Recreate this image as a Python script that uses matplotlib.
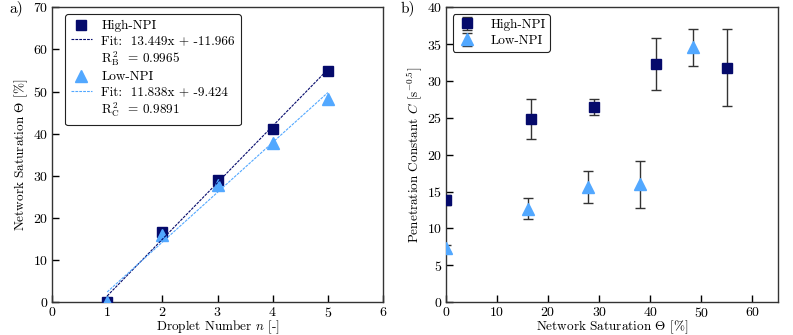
import matplotlib
matplotlib.use("Agg")
import matplotlib.pyplot as plt
import numpy as np
from matplotlib.lines import Line2D

plt.rcParams["font.family"] = "serif"
plt.rcParams["font.serif"] = ["cmr10"]
plt.rcParams["mathtext.fontset"] = "cm"
plt.rcParams["axes.formatter.use_mathtext"] = True
plt.rcParams["font.size"] = 9.5

# droplet number vs saturation
droplets = [1, 2, 3, 4, 5]
theta_high = [0.0, 16.7, 28.9, 41.2, 55.0]
theta_low = [0.0, 16.0, 27.9, 37.9, 48.3]

# linear fits (as given in the legend)
fit_high = (13.449, -11.966, 0.9965)
fit_low = (11.838, -9.424, 0.9891)

# penetration constant vs saturation
c_high = [13.9, 24.9, 26.5, 32.3, 31.8]
c_high_err = [0.7, 2.7, 1.05, 3.55, 5.25]
c_low = [7.3, 12.7, 15.6, 16.0, 34.6]
c_low_err = [0.5, 1.45, 2.15, 3.2, 2.5]

col_high = "#050a6b"
col_low = "#52a8ff"

fig = plt.figure(figsize=(7.93, 3.35), dpi=100)
ax1 = fig.add_axes([0.0656, 0.098, 0.4174, 0.880])
ax2 = fig.add_axes([0.5624, 0.098, 0.4186, 0.880])

for ax in (ax1, ax2):
    ax.tick_params(direction="in", length=5, width=1, top=False, right=False, labelsize=10, pad=2.5)
    for s in ax.spines.values():
        s.set_color("#333333")
        s.set_linewidth(1)

# a) saturation vs droplet number
ax1.plot(droplets, theta_high, "s", color=col_high, ms=7.5, zorder=3)
ax1.plot(droplets, theta_low, "^", color=col_low, ms=8, zorder=4)
xx = np.array([droplets[0], droplets[-1]])
ax1.plot(xx, fit_high[0] * xx + fit_high[1], ls=(0, (2.5, 1)), color=col_high, lw=0.8, zorder=5)
ax1.plot(xx, fit_low[0] * xx + fit_low[1], ls=(0, (2.5, 1)), color=col_low, lw=0.8, zorder=5)
ax1.set_xlim(0, 6)
ax1.set_ylim(0, 70)
ax1.set_xticks(range(0, 7))
ax1.set_yticks(range(0, 71, 10))
ax1.set_xlabel(r"Droplet Number $n$ [-]", labelpad=-0.5)
ax1.set_ylabel(r"Network Saturation $\Theta$ [%]", labelpad=2)

blank = Line2D([], [], color="none")
handles = [
    Line2D([], [], ls="none", marker="s", color=col_high, ms=7.5),
    Line2D([], [], ls=(0, (2.5, 1)), color=col_high, lw=0.8),
    blank,
    Line2D([], [], ls="none", marker="^", color=col_low, ms=8),
    Line2D([], [], ls=(0, (2.5, 1)), color=col_low, lw=0.8),
    blank,
]
labels = [
    "High-NPI",
    "Fit:  %.3fx + %.3f" % (fit_high[0], fit_high[1]),
    r"R$_{\mathrm{B}}^{\,2}$  = %.4f" % fit_high[2],
    "Low-NPI",
    "Fit:  %.3fx + %.3f" % (fit_low[0], fit_low[1]),
    r"R$_{\mathrm{C}}^{\,2}$  = %.4f" % fit_low[2],
]
leg = ax1.legend(handles, labels, loc="upper left", bbox_to_anchor=(0.019, 1.0),
                 fancybox=True, framealpha=1, edgecolor="#222222", fontsize=9.5,
                 handlelength=1.6, handletextpad=0.7, labelspacing=0.2, borderpad=0.45)
leg.get_frame().set_linewidth(0.8)

# b) penetration constant vs saturation
ax2.errorbar(theta_high, c_high, yerr=c_high_err, fmt="s", color=col_high, ms=7.5,
             ecolor="#333333", elinewidth=1, capsize=3.5, capthick=1, label="High-NPI", zorder=3)
ax2.errorbar(theta_low, c_low, yerr=c_low_err, fmt="^", color=col_low, ms=8,
             ecolor="#333333", elinewidth=1, capsize=3.5, capthick=1, label="Low-NPI", zorder=3)
ax2.set_xlim(0, 65)
ax2.set_ylim(0, 40)
ax2.set_xticks(range(0, 61, 10))
ax2.set_yticks(range(0, 41, 5))
ax2.set_xlabel(r"Network Saturation $\Theta$ [%]", labelpad=-0.5)
ax2.set_ylabel(r"Penetration Constant $C$ [s$^{-0.5}$]", labelpad=2)
leg2 = ax2.legend(loc="upper left", bbox_to_anchor=(0.0, 1.0), fancybox=True,
                  framealpha=1, edgecolor="#222222", fontsize=9.5, handlelength=1.5,
                  handletextpad=1.0, labelspacing=0.3, borderpad=0.35)
leg2.get_frame().set_linewidth(0.8)

fig.text(0.012, 0.976, "a)", fontsize=11, va="center")
fig.text(0.505, 0.976, "b)", fontsize=11, va="center")

fig.savefig("out.png", dpi=100)
